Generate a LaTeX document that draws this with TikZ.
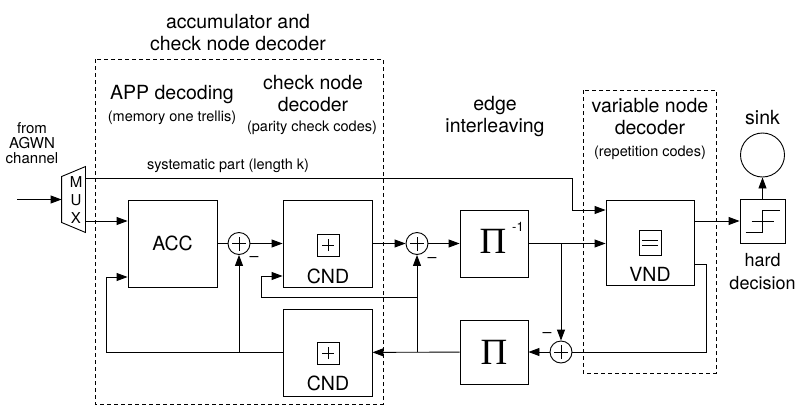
\documentclass[tikz,border=0pt]{standalone}
\usepackage{fontspec}
\setmainfont{TeX Gyre Heros}
\newfontfamily\pifont{Liberation Serif}
\usetikzlibrary{arrows.meta}

\begin{document}
\begin{tikzpicture}[x=1pt,y=-1pt,>={Triangle[length=11pt,width=8pt]},line width=0.9pt,
  lbl/.style={align=center,inner sep=0,font=\fontsize{19.5}{22}\selectfont},
  sml/.style={align=center,inner sep=0,font=\fontsize{14.5}{17}\selectfont},
  blk/.style={draw,minimum width=#1,minimum height=87pt,inner sep=0},
  adder/.style={draw,circle,minimum size=22pt,inner sep=0,
    path picture={\draw (path picture bounding box.center) ++(-7pt,0pt) -- ++(14pt,0pt)
      (path picture bounding box.center) ++(0pt,-7pt) -- ++(0pt,14pt);}},
  pbox/.style={draw,minimum size=22pt,inner sep=0,line width=0.7pt,
    path picture={\draw (path picture bounding box.center) ++(-6pt,0pt) -- ++(12pt,0pt)
      (path picture bounding box.center) ++(0pt,-6pt) -- ++(0pt,12pt);}},
  ebox/.style={draw,minimum width=22pt,minimum height=25pt,inner sep=0,line width=0.7pt,
    path picture={\draw (path picture bounding box.center) ++(-8pt,2.7pt) -- ++(16pt,0pt)
      (path picture bounding box.center) ++(-8pt,-2.7pt) -- ++(16pt,0pt);}},
  grp/.style={dash pattern=on 4pt off 3pt,line width=0.7pt},
  minus/.style={inner sep=0,font=\fontsize{16}{16}\selectfont}]
\useasboundingbox (0,0) rectangle (803,407);

% decoder groups
\draw[grp] (95,59) rectangle (383,404);
\draw[grp] (583,90) rectangle (716,373);

% blocks
\node[blk=89pt] (acc) at (172.5,243.5) {};
\node[lbl] (acctxt) at (acc) {ACC};
\node[blk=89pt] (cnd1) at (327.5,243.5) {};
\node[blk=89pt] (cnd2) at (327.5,352.5) {};
\node[blk=68pt,minimum height=67pt] (pinv) at (494,243.5) {};
\node[blk=68pt,minimum height=64pt] (perm) at (494,352) {};
\node[blk=88pt,minimum height=85pt] (vnd) at (650,242.5) {};
\node[draw,minimum width=45pt,minimum height=44pt] (hd) at (762.5,221) {};
\node[draw,circle,minimum size=44pt,inner sep=0] (sink) at (762.5,155) {};

\node[adder] (add1) at (239,243.5) {};
\node[adder] (add2) at (417,243.5) {};
\node[adder] (add3) at (561,352) {};
\node[minus] (m1) at (254,259) {–};
\node[minus] (m2) at (432,260) {–};
\node[minus] (m3) at (547,335) {–};

% block contents
\node[pbox] (pl1) at (328,245) {};
\node[lbl] (cnd1txt) at (328,276) {CND};
\node[pbox] (pl2) at (328,353) {};
\node[lbl] (cnd2txt) at (328,383) {CND};
\node[ebox] (eq) at (650,243) {};
\node[lbl] (vndtxt) at (650,274) {VND};
\node[inner sep=0,font=\pifont\fontsize{37}{37}\selectfont] (pi1) at (493,241) {Π};
\node[inner sep=0,font=\fontsize{13}{13}\selectfont] (exp) at (518,227) {-1};
\node[inner sep=0,font=\pifont\fontsize{37}{37}\selectfont] (pi2) at (494,352) {Π};
\draw (hd.center) ++(-17,11) -- ++(17,0) -- ++(0,-22) -- ++(17,0);
\draw (hd.center) ++(-11,0) -- ++(22,0);

% multiplexer
\node[minimum width=23pt,minimum height=65pt,inner sep=0] (mux) at (73.5,199.5) {};
\node[align=center,inner sep=0,font=\fontsize{15}{18}\selectfont] (muxtxt) at (76,200) {M\\U\\X};
\draw (mux.north east) -- (mux.south east) -- ([yshift=10pt]mux.south west)
  -- ([yshift=-10pt]mux.north west) -- cycle;

% labels
\node[lbl] (t1) at (238,32.5) {accumulator and\\check node decoder};
\node[lbl] (t2) at (172,95) {APP decoding};
\node[sml] (t3) at (172,118) {(memory one trellis)};
\node[lbl] (t4) at (313,94) {check node\\decoder};
\node[sml] (t5) at (312,128) {(parity check codes)};
\node[lbl] (t6) at (495,117) {edge\\interleaving};
\node[lbl] (t7) at (650,116.5) {variable node\\decoder};
\node[sml] (t8) at (650,153) {(repetition codes)};
\node[lbl] (t9) at (762.5,118) {sink};
\node[align=center,inner sep=0,font=\fontsize{18}{23}\selectfont] (t10) at (762.5,271.5) {hard\\decision};
\node[align=center,inner sep=0,font=\fontsize{15}{15}\selectfont] (t11) at (32,143) {from\\AGWN\\channel};
\node[sml] (t12) at (228,166) {systematic part (length k)};

% connections
\coordinate (src) at (17,199.5);
\coordinate (sys) at (572,178);
\coordinate (fbl) at (106,352.5);
\coordinate (fbc) at (261,297);
\coordinate (fbv) at (706,264);
\draw[->] (src) -- (mux);
\draw[->] (mux.east |- sys) -- (sys) |- (vnd.west |- 0,210);
\draw[->] (mux.east |- 0,221) -- (acc.west |- 0,221);
\draw (acc) -- (add1);
\draw[->] (add1) -- (cnd1);
\draw[->] (cnd1) -- (add2);
\draw[->] (add2) -- (pinv);
\draw[->] (pinv.east) -- (vnd.west |- pinv.east);
\draw[->] (add3 |- pinv.east) -- (add3);
\draw (vnd.east |- fbv) -- (fbv) |- (add3);
\draw[->] (add3) -- (perm);
\draw[->] (perm) -- (cnd2);
\draw[->] (add2 |- perm.west) -- (add2);
\draw[->] (add2 |- fbc) -- (fbc) |- (cnd1.west |- 0,276);
\draw[->] (cnd2.west) -- (fbl) |- (acc.west |- 0,277);
\draw[->] (add1 |- cnd2.west) -- (add1);
\draw[->] (vnd.east |- hd.west) -- (hd);
\draw[->] (hd) -- (sink);
\end{tikzpicture}
\end{document}
